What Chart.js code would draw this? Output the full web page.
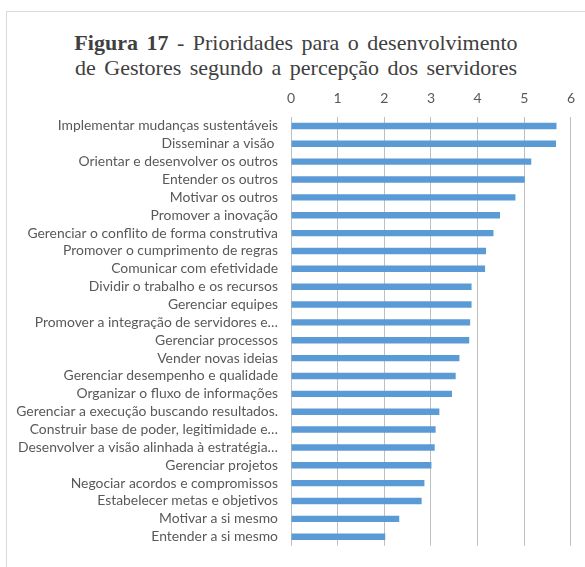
<!DOCTYPE html>
<html>
<head>
<meta charset="utf-8">
<script src="https://cdn.jsdelivr.net/npm/chart.js@4/dist/chart.umd.min.js"></script>
<style>
  html, body { margin: 0; padding: 0; background: #fff; }
  body { width: 585px; height: 567px; position: relative; overflow: hidden; }
  #frame { position: absolute; left: 6px; top: 11px; width: 600px; height: 600px;
           border-left: 1px solid #d9d9d9; border-top: 1px solid #d9d9d9; }
  #title { position: absolute; left: 0; top: 30px; width: 592px; text-align: center;
           font-family: "Liberation Serif", "Times New Roman", serif; font-size: 22px;
           line-height: 25px; color: #404040; word-spacing: 3px; }
  #title b { font-weight: bold; }
  #wrap { position: absolute; left: 0; top: 0; width: 585px; height: 567px; }
</style>
</head>
<body>
<div id="frame"></div>
<div id="title"><b>Figura 17</b> - Prioridades para o desenvolvimento<br>de Gestores segundo a percepção dos servidores</div>
<div id="wrap"><canvas id="c" width="585" height="567"></canvas></div>
<script>
const categories = [
  "Implementar mudanças sustentáveis",
  "Disseminar a visão ",
  "Orientar e desenvolver os outros",
  "Entender os outros",
  "Motivar os outros",
  "Promover a inovação",
  "Gerenciar o conflito de forma construtiva",
  "Promover o cumprimento de regras",
  "Comunicar com efetividade",
  "Dividir o trabalho e os recursos",
  "Gerenciar equipes",
  "Promover a integração de servidores e…",
  "Gerenciar processos",
  "Vender novas ideias",
  "Gerenciar desempenho e qualidade",
  "Organizar o fluxo de informações",
  "Gerenciar a execução buscando resultados.",
  "Construir base de poder, legitimidade e…",
  "Desenvolver a visão alinhada à estratégia…",
  "Gerenciar projetos",
  "Negociar acordos e compromissos",
  "Estabelecer metas e objetivos",
  "Motivar a si mesmo",
  "Entender a si mesmo"
];
const values = [5.69, 5.68, 5.15, 5.01, 4.81, 4.48, 4.34, 4.18, 4.16, 3.87, 3.87, 3.84,
                3.82, 3.61, 3.53, 3.45, 3.18, 3.10, 3.08, 3.01, 2.86, 2.80, 2.32, 2.02];
const xMin = 0, xMax = 6, xStep = 1;

new Chart(document.getElementById('c'), {
  type: 'bar',
  data: {
    labels: categories,
    datasets: [{
      data: values,
      backgroundColor: '#5B9BD5',
      borderWidth: 0,
      categoryPercentage: 1,
      barPercentage: 0.36
    }]
  },
  options: {
    indexAxis: 'y',
    responsive: false,
    animation: false,
    layout: { padding: { top: 85, right: 13, bottom: 9, left: 0 } },
    plugins: { legend: { display: false }, tooltip: { enabled: false }, title: { display: false } },
    scales: {
      x: {
        position: 'top',
        min: xMin, max: xMax,
        afterFit: s => { s.height = 32; },
        grid: { color: '#bfbfbf', lineWidth: 1, drawTicks: false, drawOnChartArea: true },
        border: { display: false },
        ticks: { stepSize: xStep, color: '#595959', padding: 10, font: { family: 'Lato', size: 14 } }
      },
      y: {
        afterFit: s => { s.width = 291; },
        grid: { display: false, drawTicks: false },
        border: { display: true, color: '#bfbfbf', width: 1 },
        ticks: { color: '#595959', padding: 13, autoSkip: false, font: { family: 'Lato', size: 13.9 } }
      }
    }
  }
});
</script>
</body>
</html>
